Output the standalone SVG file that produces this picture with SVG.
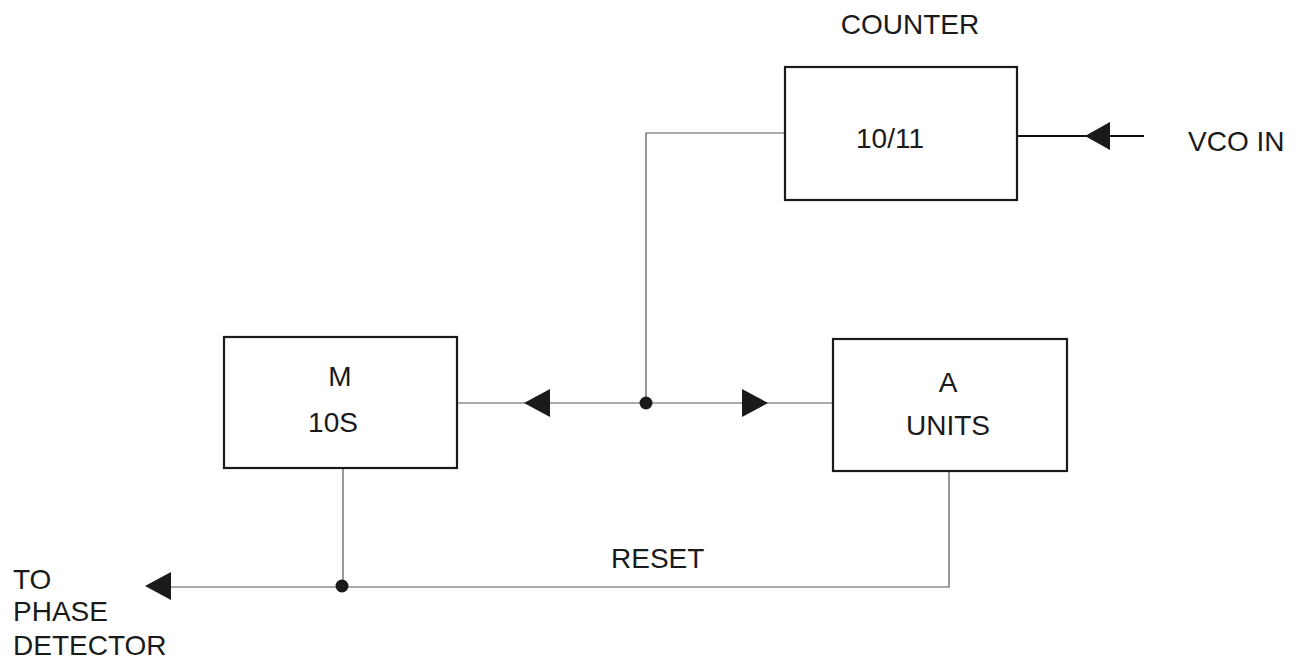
<svg xmlns="http://www.w3.org/2000/svg" width="1299" height="659" viewBox="0 0 1299 659">
<defs>
<style>
.box{fill:#fff;stroke:#1a1a1a;stroke-width:2.2}
.wire{fill:none;stroke:#555;stroke-width:1.2}
.wire2{fill:none;stroke:#111;stroke-width:2}
.arr{fill:#1a1a1a}
text{font-family:"Liberation Sans",Arial,sans-serif;font-size:28px;fill:#1a1a1a}
.c{text-anchor:middle}
</style>
</defs>
<rect width="1299" height="659" fill="#fff"/>
<g id="connectors">
<path class="wire" d="M785 133 H646 V403"/>
<path class="wire" d="M457 403 H833"/>
<path class="wire2" d="M1017 136 H1144"/>
<polygon class="arr" points="1085,136 1110,122 1110,150"/>
<polygon class="arr" points="524,403 550,389 550,417"/>
<polygon class="arr" points="768,403 742,389 742,417"/>
<circle class="arr" cx="646" cy="403" r="6.5"/>
<path class="wire" d="M343 468 V586"/>
<path class="wire" d="M949 471 V587 H160"/>
<polygon class="arr" points="145,586 171,572 171,600"/>
<circle class="arr" cx="342" cy="586" r="6.5"/>
</g>
<g id="counter">
<text class="c" x="910" y="34">COUNTER</text>
<rect class="box" x="785" y="67" width="232" height="133"/>
<text class="c" x="890" y="148">10/11</text>
</g>
<g id="vco-in">
<text x="1188" y="151">VCO IN</text>
</g>
<g id="m-block">
<rect class="box" x="224" y="337" width="233" height="131"/>
<text class="c" x="340" y="386">M</text>
<text class="c" x="333" y="432">10S</text>
</g>
<g id="a-block">
<rect class="box" x="833" y="339" width="234" height="132"/>
<text class="c" x="948" y="392">A</text>
<text class="c" x="948" y="435">UNITS</text>
</g>
<g id="reset-label">
<text x="611" y="568">RESET</text>
</g>
<g id="phase-detector">
<text x="13" y="589">TO</text>
<text x="13" y="621">PHASE</text>
<text x="13" y="655">DETECTOR</text>
</g>
</svg>
